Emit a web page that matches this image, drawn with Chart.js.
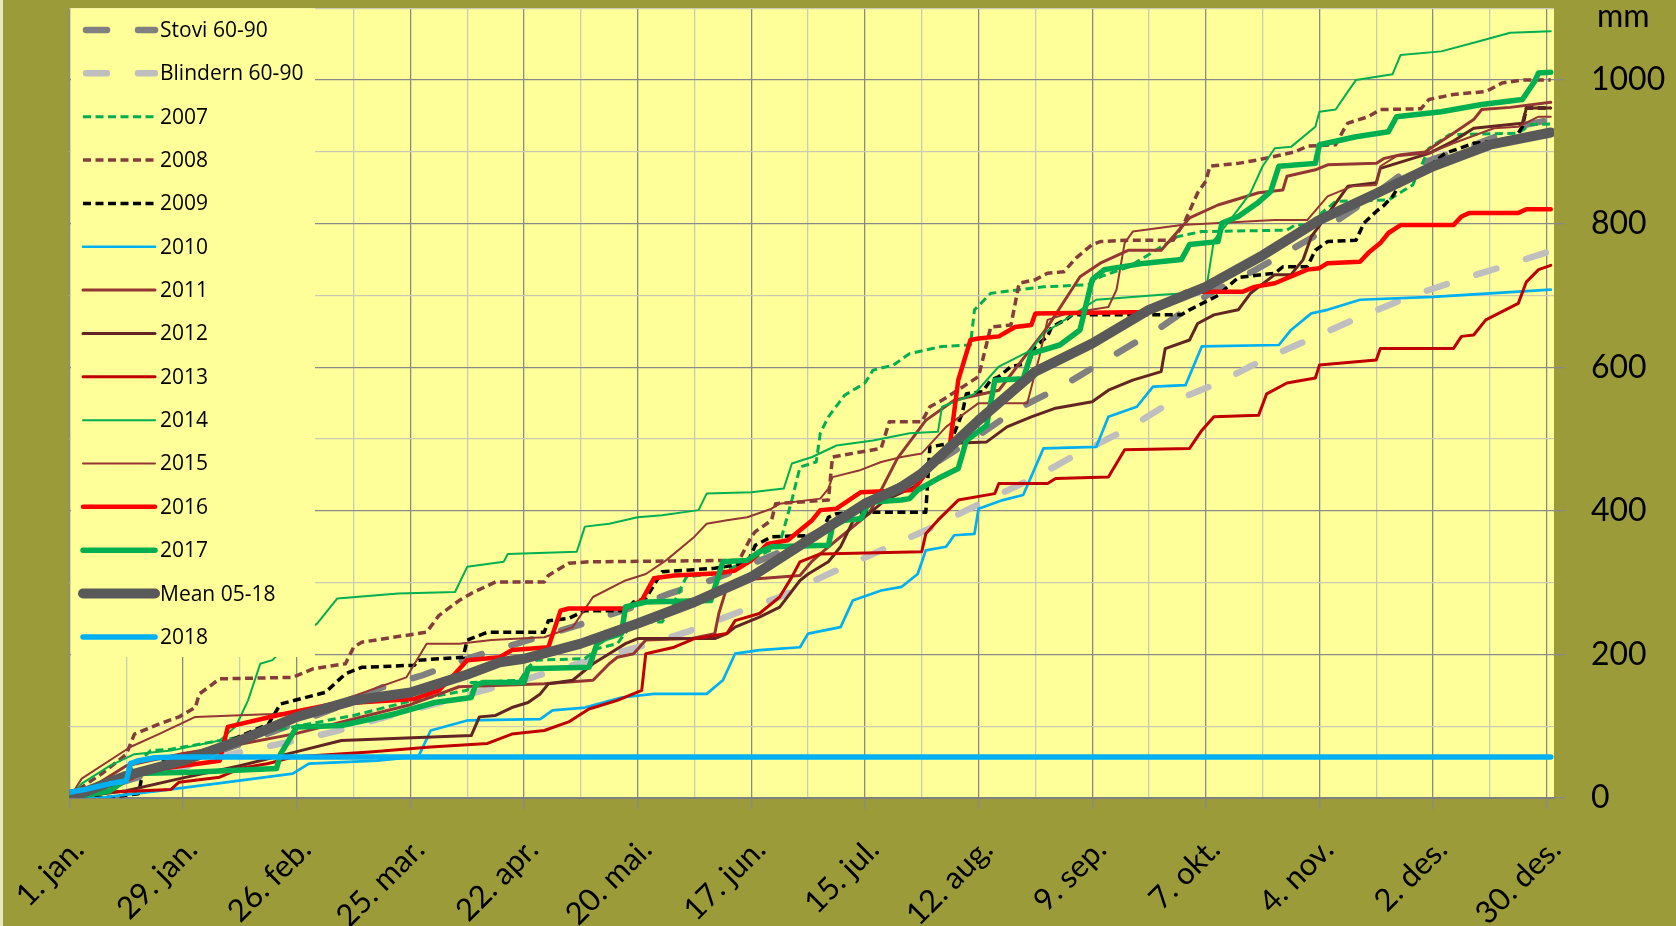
<!DOCTYPE html>
<html><head><meta charset="utf-8">
<script src="https://cdn.jsdelivr.net/npm/chart.js@4/dist/chart.umd.min.js"></script>
<style>html,body{margin:0;padding:0;background:#9b9b3a;overflow:hidden}canvas{display:block}</style>
</head><body>
<canvas id="c" width="1676" height="926"></canvas>
<script>
// ---- tick labels (day of year -> label) ----
const tickDays = [1, 29, 57, 85, 113, 141, 169, 197, 225, 253, 281, 309, 337, 365];
const tickLabels = ['1. jan.', '29. jan.', '26. feb.', '25. mar.', '22. apr.', '20. mai.', '17. jun.', '15. jul.', '12. aug.', '9. sep.', '7. okt.', '4. nov.', '2. des.', '30. des.'];
const seriesNames = ['Stovi 60-90', 'Blindern 60-90', '2007', '2008', '2009', '2010', '2011', '2012', '2013', '2014', '2015', '2016', '2017', 'Mean 05-18', '2018'];

// ---- cumulative precipitation [day, mm] ----
const stovi = [[1,0],[15,24],[29,48],[43,75],[57,105],[71,135],[78,154],[88,171],[100,196],[113,218],[126,240],[141,268],[149,285],[160,305],[175,340],[188,378],[200,415],[212,458],[225,505],[234,540],[246,575],[259,619],[270,656],[282,703],[293,735],[307,780],[320,830],[332,880],[345,905],[360,938],[366,945]];
const blindern = [[1,0],[15,30],[29,43],[43,64],[55,78],[66,92],[79,113],[91,131],[103,150],[115,168],[128,190],[141,210],[153,231],[165,257],[176,280],[188,312],[201,345],[214,378],[226,412],[239,447],[249,478],[262,515],[272,550],[284,578],[295,610],[307,640],[319,670],[331,698],[342,719],[354,740],[366,762]];
const y2007 = [[1,0],[8,15],[15,35],[21,66],[26,68],[43,85],[57,100],[71,115],[85,135],[96,147],[99,150],[100,161],[112,164],[114,182],[116,192],[128,194],[131,208],[136,215],[140,245],[147,245],[149,261],[153,308],[161,313],[170,335],[174,346],[176,354],[179,415],[181,461],[185,468],[186,508],[188,531],[192,561],[197,578],[199,596],[204,603],[208,619],[216,629],[223,631],[224,680],[228,703],[235,708],[241,712],[252,715],[255,726],[262,740],[267,757],[274,782],[280,789],[301,791],[303,798],[306,798],[313,831],[326,833],[332,854],[336,905],[341,924],[358,926],[361,938],[366,939]];
const y2008 = [[1,0],[4,15],[9,34],[15,61],[17,89],[23,103],[28,113],[32,126],[33,145],[38,166],[56,168],[61,180],[69,187],[71,210],[73,217],[89,231],[92,254],[97,275],[100,285],[106,301],[118,301],[119,310],[124,327],[129,329],[166,331],[169,364],[170,371],[174,387],[175,410],[188,415],[189,475],[201,487],[203,524],[211,524],[213,545],[216,554],[225,587],[228,656],[233,659],[235,717],[239,722],[242,731],[246,733],[249,752],[253,771],[255,775],[261,777],[273,777],[276,805],[279,843],[281,859],[282,880],[289,884],[294,889],[303,900],[306,908],[313,910],[315,931],[316,940],[321,949],[324,959],[334,960],[336,973],[342,980],[350,984],[354,996],[359,1000],[366,1000]];
const y2009 = [[1,0],[11,1],[18,6],[19,34],[26,57],[34,64],[50,103],[53,131],[64,147],[69,173],[73,182],[86,185],[87,192],[98,196],[99,220],[104,231],[118,231],[119,247],[124,250],[128,261],[138,261],[140,273],[143,278],[147,315],[160,320],[168,327],[170,352],[174,364],[186,366],[188,391],[190,396],[196,398],[212,398],[213,489],[218,494],[221,536],[222,563],[226,566],[228,582],[230,587],[233,601],[237,605],[239,629],[242,643],[243,656],[247,668],[248,673],[275,673],[277,680],[284,700],[289,725],[298,731],[300,740],[306,740],[308,763],[311,775],[318,777],[320,801],[323,817],[325,826],[327,838],[329,856],[331,866],[336,880],[340,898],[347,912],[357,917],[359,935],[360,961],[366,961]];
const y2010 = [[1,0],[8,0],[23,10],[40,22],[56,34],[60,48],[77,52],[87,58],[90,94],[99,108],[117,110],[120,122],[128,126],[137,140],[145,145],[158,145],[162,164],[165,201],[171,206],[181,210],[183,229],[191,238],[194,275],[201,289],[206,294],[210,312],[212,345],[217,350],[219,366],[224,368],[225,403],[231,415],[236,422],[241,487],[254,489],[257,531],[264,545],[268,573],[276,575],[280,629],[299,631],[302,652],[307,675],[311,680],[319,694],[337,698],[357,705],[366,708]];
const y2011 = [[1,0],[8,20],[15,45],[29,62],[43,75],[57,90],[71,110],[85,130],[97,155],[118,159],[130,164],[134,187],[136,196],[140,201],[143,220],[154,222],[160,229],[161,257],[163,294],[165,303],[181,310],[184,330],[187,345],[190,359],[198,396],[205,473],[212,526],[219,554],[230,568],[242,656],[250,726],[255,745],[262,763],[270,763],[277,808],[284,826],[294,843],[300,847],[301,866],[308,875],[311,882],[323,884],[325,891],[329,896],[335,900],[342,926],[347,945],[349,959],[356,962],[366,969]];
const y2012 = [[1,0],[15,10],[29,28],[43,45],[58,66],[68,80],[100,87],[102,113],[106,115],[110,126],[114,133],[117,145],[119,159],[125,164],[130,187],[134,201],[138,215],[141,222],[160,222],[163,229],[165,238],[171,252],[176,266],[181,303],[183,312],[188,329],[191,350],[194,385],[198,396],[202,415],[209,433],[219,494],[227,496],[232,517],[238,531],[244,543],[253,552],[257,568],[263,582],[270,594],[271,626],[277,638],[279,661],[283,673],[289,680],[292,703],[298,729],[302,729],[305,750],[307,782],[310,805],[316,852],[323,857],[324,877],[336,898],[342,915],[347,933],[359,940],[360,961],[366,961]];
const y2013 = [[1,0],[10,8],[26,12],[28,22],[38,29],[43,41],[50,48],[56,57],[75,64],[90,71],[104,76],[110,89],[118,94],[124,106],[129,124],[136,136],[142,150],[143,201],[150,210],[155,222],[163,229],[165,247],[171,257],[176,280],[179,308],[181,329],[186,340],[211,343],[212,368],[215,387],[220,415],[229,424],[230,438],[242,438],[244,445],[257,447],[261,485],[277,487],[280,512],[283,531],[294,533],[296,563],[301,578],[308,585],[309,603],[323,610],[324,626],[342,626],[344,643],[347,645],[350,666],[358,689],[360,719],[363,736],[366,742]];
const y2014 = [[1,0],[4,20],[11,45],[17,61],[26,66],[38,80],[42,100],[45,136],[48,187],[51,192],[56,220],[62,243],[67,278],[82,285],[96,287],[99,322],[108,329],[109,340],[126,343],[128,378],[134,382],[141,391],[147,394],[156,401],[158,424],[169,426],[177,431],[179,466],[184,475],[190,491],[199,498],[208,508],[215,510],[216,545],[224,563],[230,601],[238,624],[241,647],[254,694],[270,701],[281,705],[283,777],[287,805],[292,843],[295,880],[298,905],[302,907],[308,935],[309,956],[313,959],[316,984],[318,1000],[327,1008],[329,1035],[339,1040],[347,1052],[356,1066],[366,1068]];
const y2015 = [[1,0],[4,27],[16,71],[23,89],[32,113],[51,117],[64,122],[70,140],[84,168],[89,215],[97,215],[105,220],[118,224],[125,238],[130,280],[138,303],[143,312],[148,331],[155,364],[158,382],[163,387],[168,391],[174,403],[176,410],[186,417],[188,431],[189,447],[196,457],[201,468],[206,475],[211,480],[217,517],[225,550],[237,550],[240,615],[242,666],[247,675],[257,684],[259,708],[261,773],[263,789],[275,798],[298,805],[306,805],[311,838],[317,852],[323,854],[324,880],[328,894],[336,898],[342,912],[352,933],[358,935],[363,949],[366,949]];
const y2016 = [[1,8],[7,15],[14,22],[20,38],[38,52],[40,99],[52,115],[66,131],[86,138],[92,150],[96,173],[99,192],[107,196],[110,206],[119,210],[122,261],[124,264],[138,264],[142,275],[145,306],[150,310],[161,313],[165,317],[169,331],[173,354],[178,359],[184,387],[186,401],[190,403],[196,426],[209,429],[212,452],[218,494],[220,582],[223,638],[225,640],[230,643],[234,656],[238,659],[239,675],[267,677],[269,687],[273,694],[276,705],[290,705],[293,712],[298,717],[306,736],[309,738],[311,745],[319,747],[321,759],[324,773],[326,787],[329,798],[342,798],[344,810],[346,815],[358,815],[360,820],[366,820]];
const y2017 = [[1,0],[11,10],[17,34],[31,36],[52,41],[53,61],[57,99],[68,101],[81,117],[91,133],[100,140],[101,157],[103,161],[113,161],[114,180],[129,182],[131,215],[133,222],[137,229],[138,266],[143,273],[159,275],[162,329],[168,331],[171,343],[174,350],[188,352],[189,378],[192,387],[196,389],[198,412],[206,415],[208,417],[210,429],[215,445],[220,459],[222,498],[227,519],[229,582],[236,584],[238,619],[245,631],[250,652],[253,722],[256,736],[266,745],[275,750],[277,771],[284,775],[285,801],[289,810],[294,830],[297,845],[299,880],[308,884],[309,910],[318,921],[326,928],[328,949],[339,956],[349,966],[359,973],[362,998],[363,1010],[366,1011]];
const meanSeries = [[1,0],[15,31],[29,52],[43,80],[57,113],[71,136],[85,147],[99,172],[107,189],[113,194],[127,215],[141,243],[155,273],[169,308],[183,359],[197,410],[206,433],[211,452],[225,526],[239,594],[253,633],[267,680],[281,712],[295,756],[309,805],[323,842],[337,880],[351,910],[366,927]];
const y2018 = [[1,8],[5,12],[11,20],[15,24],[16,48],[18,52],[22,56],[27,57],[366,57]];

const seriesData = [stovi, blindern, y2007, y2008, y2009, y2010, y2011, y2012, y2013, y2014, y2015, y2016, y2017, meanSeries, y2018];

// ---- styles ----
const styles = [
  {c:'#808080', w:6.5, d:[21,31], cap:'round'},
  {c:'#bfbfbf', w:6.5, d:[21,31], cap:'round'},
  {c:'#00b050', w:3,   d:[8,4.5], cap:'butt'},
  {c:'#843c3c', w:3.5, d:[8,4.5], cap:'butt'},
  {c:'#000000', w:3.5, d:[8,4.5], cap:'butt'},
  {c:'#00b0f0', w:2.7, d:[], cap:'round'},
  {c:'#943634', w:3,   d:[], cap:'round'},
  {c:'#632523', w:3,   d:[], cap:'round'},
  {c:'#c00000', w:3,   d:[], cap:'round'},
  {c:'#00b050', w:2,   d:[], cap:'round'},
  {c:'#943634', w:2,   d:[], cap:'round'},
  {c:'#ff0000', w:4.5, d:[], cap:'round'},
  {c:'#00b050', w:5.5, d:[], cap:'round'},
  {c:'#595959', w:10,  d:[], cap:'round'},
  {c:'#00b0f0', w:5.5, d:[], cap:'round'}
];

const N = seriesNames.length;
const datasets = seriesNames.map((name, i) => ({
  label: name,
  data: seriesData[i].map(([x, y]) => ({x, y})),
  borderColor: styles[i].c,
  backgroundColor: styles[i].c,
  borderWidth: styles[i].w,
  borderDash: styles[i].d,
  borderCapStyle: styles[i].cap,
  borderJoinStyle: 'round',
  pointRadius: 0,
  tension: 0,
  fill: false,
  order: N - 1 - i
}));

const DARK = '#8a8a8a', LIGHT = '#cbcbb4';

const plotBg = {
  id: 'plotBg',
  beforeDraw(chart) {
    const {ctx, chartArea: a} = chart;
    ctx.save();
    ctx.fillStyle = '#e8e8c0';
    ctx.fillRect(0, 0, 3, chart.height);
    ctx.fillStyle = '#ffff99';
    ctx.fillRect(a.left, a.top, a.right - a.left, a.bottom - a.top);
    ctx.restore();
  }
};

const boxLegend = {
  id: 'boxLegend',
  afterDatasetsDraw(chart) {
    const {ctx, chartArea: a} = chart;
    ctx.save();
    ctx.fillStyle = '#ffff99';
    ctx.fillRect(a.left + 1.5, a.top, 315 - a.left - 1.5, 657 - a.top);
    ctx.font = '21px "Open Sans"';
    ctx.textBaseline = 'middle';
    chart.data.datasets.forEach((ds, i) => {
      const y = 30 + i * 43.35;
      ctx.beginPath();
      ctx.strokeStyle = ds.borderColor;
      ctx.lineWidth = ds.borderWidth;
      ctx.setLineDash(ds.borderDash || []);
      ctx.lineCap = ds.borderCapStyle;
      const x0 = ds.borderDash.length && ds.borderWidth > 5 ? 86 : 83;
      ctx.moveTo(x0, y);
      ctx.lineTo(155, y);
      ctx.stroke();
      ctx.setLineDash([]);
      ctx.fillStyle = '#000';
      ctx.fillText(ds.label, 160, y + 1);
    });
    ctx.restore();
  }
};

const unitLabel = {
  id: 'unitLabel',
  afterDraw(chart) {
    const ctx = chart.ctx;
    ctx.save();
    ctx.font = '32px Lato';
    ctx.fillStyle = '#000';
    ctx.textBaseline = 'alphabetic';
    ctx.fillText('mm', 1597, 27);
    ctx.restore();
  }
};

new Chart(document.getElementById('c'), {
  type: 'line',
  data: {datasets},
  options: {
    responsive: false,
    animation: false,
    events: [],
    layout: {padding: {left: 69.5, top: 8.3, right: 0, bottom: 0}, autoPadding: false},
    plugins: {legend: {display: false}, tooltip: {enabled: false}, title: {display: false}},
    scales: {
      x: {
        type: 'linear', min: 1, max: 366.8,
        afterBuildTicks: s => { const t = []; for (let d = 1; d <= 365; d += 14) t.push({value: d}); s.ticks = t; },
        afterFit: s => { s.height = 128; s.paddingLeft = 0; s.paddingRight = 0; },
        ticks: {
          autoSkip: false, minRotation: 45, maxRotation: 45, padding: 22, labelOffset: 9,
          color: '#000', font: {family: 'Lato', size: 31},
          callback: v => { const k = tickDays.indexOf(v); return k >= 0 ? tickLabels[k] : ''; }
        },
        grid: {
          color: c => (c.tick && tickDays.includes(c.tick.value)) ? DARK : LIGHT,
          tickColor: c => (c.tick && tickDays.includes(c.tick.value)) ? DARK : 'rgba(0,0,0,0)',
          lineWidth: 1.3, tickLength: 11
        },
        border: {display: true, color: '#808080', width: 2}
      },
      y: {
        position: 'right', min: 0, max: 1100,
        afterBuildTicks: s => { const t = []; for (let v = 0; v <= 1100; v += 100) t.push({value: v}); s.ticks = t; },
        afterFit: s => { s.width = 122; s.paddingTop = 0; s.paddingBottom = 0; },
        ticks: {
          padding: 26, crossAlign: 'near', color: '#000', font: {family: 'Lato', size: 32},
          callback: v => (v % 200 === 0 ? String(v) : '')
        },
        grid: {
          color: c => (c.tick && c.tick.value % 200 === 0) ? DARK : LIGHT,
          tickColor: c => (c.tick && c.tick.value % 200 === 0) ? DARK : 'rgba(0,0,0,0)',
          lineWidth: 1.3, tickLength: 11
        },
        border: {display: false}
      }
    }
  },
  plugins: [plotBg, boxLegend, unitLabel]
});
</script>
</body></html>
